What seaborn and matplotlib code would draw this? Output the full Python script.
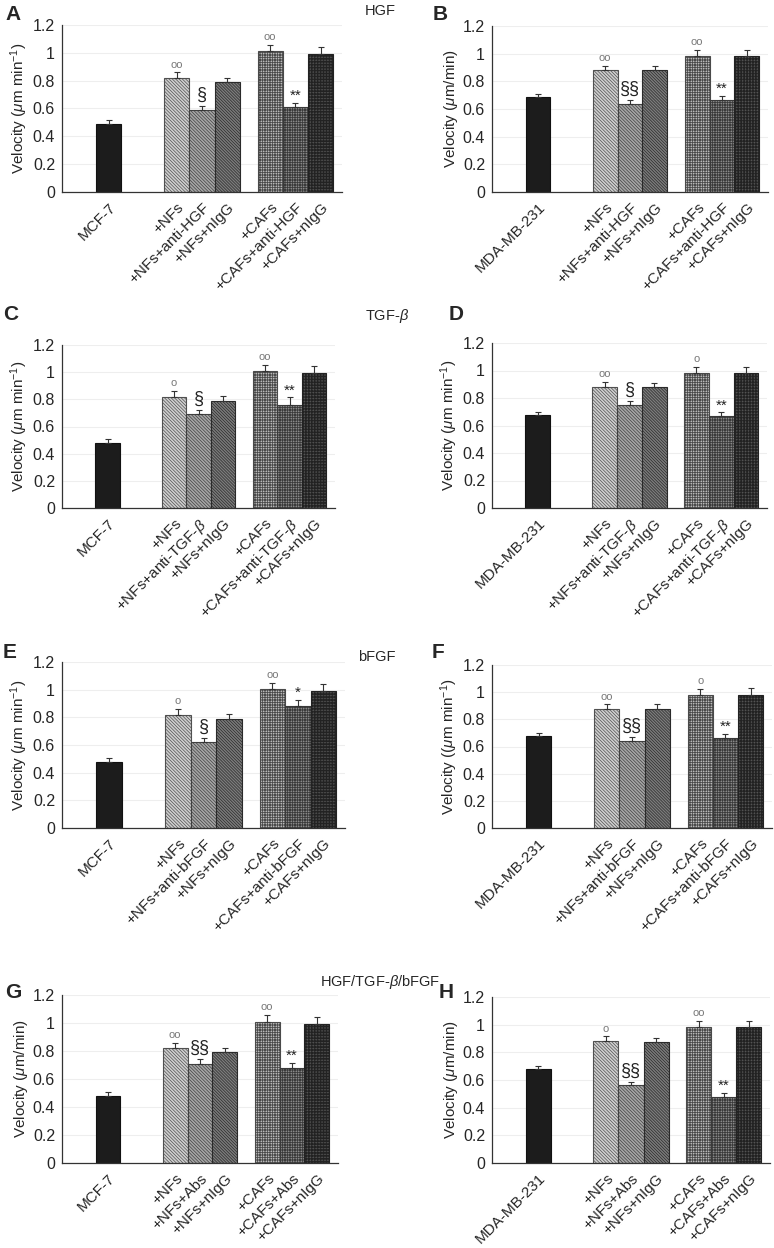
import numpy as np
import pandas as pd
import matplotlib
matplotlib.use("Agg")
import matplotlib.pyplot as plt
import seaborn as sns

# ---- data (velocity, um/min) ----
groups_mcf = ["MCF-7"]
groups_mda = ["MDA-MB-231"]

labels_hgf = ["+NFs", "+NFs+anti-HGF", "+NFs+nIgG", "+CAFs", "+CAFs+anti-HGF", "+CAFs+nIgG"]
labels_tgf = ["+NFs", r"+NFs+anti-TGF-$\beta$", "+NFs+nIgG", "+CAFs", r"+CAFs+anti-TGF-$\beta$", "+CAFs+nIgG"]
labels_bfgf = ["+NFs", "+NFs+anti-bFGF", "+NFs+nIgG", "+CAFs", "+CAFs+anti-bFGF", "+CAFs+nIgG"]
labels_abs = ["+NFs", "+NFs+Abs", "+NFs+nIgG", "+CAFs", "+CAFs+Abs", "+CAFs+nIgG"]

vals_A = [0.49, 0.82, 0.59, 0.79, 1.01, 0.61, 0.99]
errs_A = [0.025, 0.04, 0.03, 0.03, 0.045, 0.03, 0.05]
marks_A = ["", "oo", "§", "", "oo", "**", ""]

vals_B = [0.685, 0.88, 0.635, 0.88, 0.98, 0.665, 0.98]
errs_B = [0.02, 0.03, 0.03, 0.03, 0.045, 0.03, 0.045]
marks_B = ["", "oo", "§§", "", "oo", "**", ""]

vals_C = [0.48, 0.82, 0.69, 0.79, 1.01, 0.76, 0.995]
errs_C = [0.025, 0.045, 0.035, 0.035, 0.045, 0.055, 0.05]
marks_C = ["", "o", "§", "", "oo", "**", ""]

vals_D = [0.68, 0.88, 0.75, 0.88, 0.98, 0.67, 0.98]
errs_D = [0.02, 0.035, 0.03, 0.03, 0.045, 0.025, 0.045]
marks_D = ["", "oo", "§", "", "o", "**", ""]

vals_E = [0.48, 0.82, 0.62, 0.79, 1.005, 0.88, 0.99]
errs_E = [0.025, 0.04, 0.03, 0.035, 0.045, 0.045, 0.05]
marks_E = ["", "o", "§", "", "oo", "*", ""]

vals_F = [0.68, 0.875, 0.64, 0.875, 0.98, 0.665, 0.98]
errs_F = [0.02, 0.035, 0.03, 0.035, 0.045, 0.025, 0.05]
marks_F = ["", "oo", "§§", "", "o", "**", ""]

vals_G = [0.48, 0.82, 0.71, 0.79, 1.01, 0.68, 0.995]
errs_G = [0.025, 0.04, 0.03, 0.035, 0.045, 0.035, 0.05]
marks_G = ["", "oo", "§§", "", "oo", "**", ""]

vals_H = [0.68, 0.88, 0.565, 0.875, 0.98, 0.48, 0.98]
errs_H = [0.02, 0.035, 0.02, 0.03, 0.045, 0.025, 0.045]
marks_H = ["", "o", "§§", "", "oo", "**", ""]

ylab_a = r"Velocity ($\mu$m min$^{-1}$)"
ylab_b = r"Velocity ($\mu$m/min)"
ylab_f = r"Velocity (($\mu$m min$^{-1}$)"

# ---- style ----
sns.set_style("white")
plt.rcParams["font.family"] = ["Liberation Sans", "DejaVu Sans"]
plt.rcParams["mathtext.fontset"] = "custom"
plt.rcParams["mathtext.rm"] = "Liberation Sans"
plt.rcParams["mathtext.it"] = "Liberation Sans:italic"
plt.rcParams["hatch.linewidth"] = 0.5

faces = ["#1c1c1c", "#cfcfcf", "#a6a6a6", "#7c7c7c", "#f6f6f6", "#b4b4b4", "#707070"]
hatches = ["", "\\" * 10, "\\" * 10, "\\" * 11, "+" * 10, "+" * 10, "+" * 11]
edges = ["#111111", "#505050", "#404040", "#2a2a2a", "#4a4a4a", "#3a3a3a", "#222222"]

W, H = 774, 1248
fig = plt.figure(figsize=(W / 100, H / 100), dpi=100)

# bar slots: one lone bar, then two clusters of three
d = 0.27
slots = [0.0, 1 - d, 1.0, 1 + d, 2 - d, 2.0, 2 + d]


def px_axes(l, r, t, b):
    return fig.add_axes([l / W, 1 - b / H, (r - l) / W, (b - t) / H])


def panel(rect, cell, labels, vals, errs, marks, ylab):
    ax = px_axes(*rect)
    df = pd.DataFrame({"pos": slots, "val": vals})
    sns.barplot(data=df, x="pos", y="val", native_scale=True, width=1.0,
                errorbar=None, color="gray", ax=ax)
    bars = sorted(ax.patches, key=lambda p: p.get_x())
    centers = []
    for i, p in enumerate(bars):
        p.set_facecolor(faces[i])
        p.set_edgecolor(edges[i])
        p.set_hatch(hatches[i])
        p.set_linewidth(0.8)
        centers.append(p.get_x() + p.get_width() / 2)
    ax.errorbar(centers, vals, yerr=[np.zeros(len(vals)), errs], fmt="none",
                ecolor="#333333", elinewidth=0.8, capsize=2.2, capthick=0.8)
    for c, v, e, m in zip(centers, vals, errs, marks):
        if not m:
            continue
        if m.startswith("o"):
            ax.text(c, v + e + 0.02, m, ha="center", va="bottom", fontsize=8,
                    color="#777777")
        elif m.startswith("§"):
            ax.text(c, v + e + 0.015, m, ha="center", va="bottom", fontsize=13,
                    color="#222222")
        else:
            ax.text(c, v + e + 0.0, m, ha="center", va="bottom", fontsize=11,
                    color="#222222")
    ax.set_xlim(-0.5, 2.5)
    ax.set_ylim(0, 1.2)
    ax.set_yticks([0, 0.2, 0.4, 0.6, 0.8, 1.0, 1.2])
    ax.set_yticklabels(["0", "0.2", "0.4", "0.6", "0.8", "1", "1.2"], fontsize=11.5)
    ax.yaxis.grid(True, color="#eeeeee", linewidth=0.8)
    ax.set_axisbelow(True)
    ax.set_xticks(centers)
    ax.set_xticklabels([cell] + labels, rotation=45, ha="right",
                       rotation_mode="anchor", fontsize=11)
    ax.set_xticks([0.5, 1.5, 2.5], minor=True)
    ax.tick_params(axis="x", which="major", length=0, pad=6)
    ax.tick_params(axis="x", which="minor", length=3, width=0.8, color="#333333")
    ax.tick_params(axis="y", length=3, width=0.8, color="#333333", pad=2)
    ax.set_xlabel("")
    ax.set_ylabel(ylab, fontsize=11, labelpad=2)
    for s in ["top", "right"]:
        ax.spines[s].set_visible(False)
    for s in ["left", "bottom"]:
        ax.spines[s].set_color("#333333")
        ax.spines[s].set_linewidth(0.9)
    return ax


panel((62, 342, 25, 192), groups_mcf[0], labels_hgf, vals_A, errs_A, marks_A, ylab_a)
panel((492, 768, 26, 192), groups_mda[0], labels_hgf, vals_B, errs_B, marks_B, ylab_b)
panel((62, 335, 345, 508), groups_mcf[0], labels_tgf, vals_C, errs_C, marks_C, ylab_a)
panel((492, 767, 343, 508), groups_mda[0], labels_tgf, vals_D, errs_D, marks_D, ylab_a)
panel((62, 345, 662, 828), groups_mcf[0], labels_bfgf, vals_E, errs_E, marks_E, ylab_a)
panel((492, 772, 665, 828), groups_mda[0], labels_bfgf, vals_F, errs_F, marks_F, ylab_f)
panel((62, 338, 995, 1163), groups_mcf[0], labels_abs, vals_G, errs_G, marks_G, ylab_b)
panel((492, 770, 997, 1163), groups_mda[0], labels_abs, vals_H, errs_H, marks_H, ylab_b)

# panel letters and section titles (pixel positions)
letters = [("A", 13, 15), ("B", 440, 15), ("C", 11, 315), ("D", 456, 315),
           ("E", 10, 652), ("F", 438, 653), ("G", 13, 992), ("H", 446, 993)]
for t, x, y in letters:
    fig.text(x / W, 1 - y / H, t, fontsize=15, fontweight="bold",
             ha="center", va="center")

titles = [("HGF", 380, 11), (r"TGF-$\beta$", 387, 316), ("bFGF", 377, 657),
          (r"HGF/TGF-$\beta$/bFGF", 380, 982)]
for t, x, y in titles:
    fig.text(x / W, 1 - y / H, t, fontsize=10.5, ha="center", va="center")

fig.savefig("out.png", dpi=100)
